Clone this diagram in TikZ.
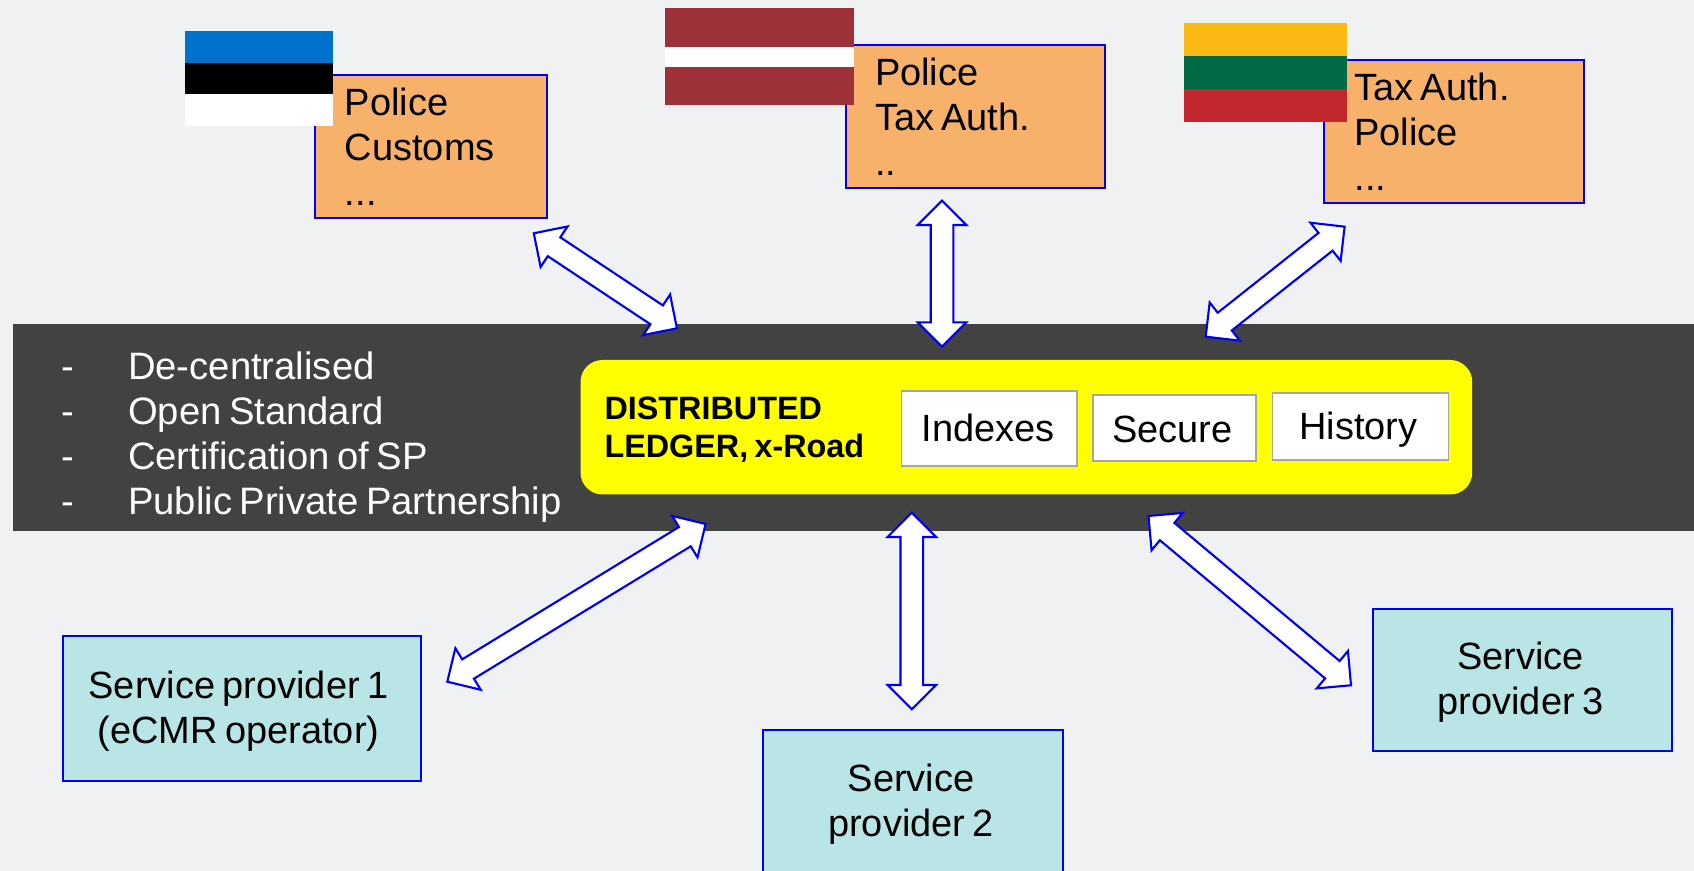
\documentclass[tikz,border=0pt]{standalone}
\usepackage{fontspec}
\setmainfont[WordSpace=0.7]{Liberation Sans}
\usetikzlibrary{calc}
\definecolor{pagebg}{HTML}{F0F1F3}
\definecolor{orangefill}{HTML}{F7B16B}
\definecolor{tealfill}{HTML}{B9E5E6}
\definecolor{bandfill}{HTML}{424242}
\definecolor{ledgeryellow}{HTML}{FFFF00}
\definecolor{linkblue}{HTML}{0000F0}
\definecolor{estblue}{HTML}{0072CE}
\definecolor{latred}{HTML}{9E3039}
\definecolor{litgold}{HTML}{FDB913}
\definecolor{litgreen}{HTML}{006A44}
\definecolor{litred}{HTML}{C1272D}
\tikzset{
  x=0.01cm, y=-0.01cm,
  plainbox/.style={rectangle, anchor=north west, inner sep=0pt, outer sep=0pt},
  orangebox/.style={plainbox, draw=linkblue, line width=0.55pt, fill=orangefill},
  tealbox/.style={plainbox, draw=linkblue, line width=0.55pt, fill=tealfill},
  whitebox/.style={plainbox, draw=black!35, line width=0.55pt, fill=white},
  bodytext/.style={font=\fontsize{10.8}{12.8}\selectfont, inner sep=0pt, outer sep=0pt},
  lefttext/.style={bodytext, align=left, anchor=north west},
  midtext/.style={bodytext, align=center, anchor=center},
  blockarrow/.style={draw=linkblue, line width=0.6pt, fill=white, line join=miter},
}
\newcommand{\dblarrow}[2]{%
  \draw[blockarrow]
    (#1)
    -- ($(#1)!0.243cm!(#2)!0.243cm!90:(#2)$)
    -- ($(#1)!0.243cm!(#2)!0.113cm!90:(#2)$)
    -- ($(#2)!0.243cm!(#1)!0.113cm!-90:(#1)$)
    -- ($(#2)!0.243cm!(#1)!0.243cm!-90:(#1)$)
    -- (#2)
    -- ($(#2)!0.243cm!(#1)!0.243cm!90:(#1)$)
    -- ($(#2)!0.243cm!(#1)!0.113cm!90:(#1)$)
    -- ($(#1)!0.243cm!(#2)!0.113cm!-90:(#2)$)
    -- ($(#1)!0.243cm!(#2)!0.243cm!-90:(#2)$)
    -- cycle;}
\begin{document}
\begin{tikzpicture}
\clip (0,0) rectangle (1694,871);
\fill[pagebg] (0,0) rectangle (1694,871);
% dark band
\fill[bandfill] (13,324) rectangle (1694,531);
% yellow ledger
\node[plainbox, fill=ledgeryellow, rounded corners=0.22cm, minimum width=8.912cm, minimum height=1.344cm] (ledger) at (580.5,360) {};
% authority boxes
\node[orangebox, minimum width=2.325cm, minimum height=1.43cm] (estbox) at (314.8,75.3) {};
\node[orangebox, minimum width=2.585cm, minimum height=1.43cm] (latbox) at (846,45.3) {};
\node[orangebox, minimum width=2.602cm, minimum height=1.425cm] (litbox) at (1324,60.3) {};
% flags
\fill[estblue] (184.8,31) rectangle (332.8,62.7);
\fill[black] (184.8,62.7) rectangle (332.8,94.3);
\fill[white] (184.8,94.3) rectangle (332.8,126);
\fill[latred] (665,8) rectangle (854,105);
\fill[white] (665,46.7) rectangle (854,66.7);
\fill[litgold] (1184,23) rectangle (1347.3,56);
\fill[litgreen] (1184,56) rectangle (1347.3,89);
\fill[litred] (1184,89) rectangle (1347.3,121.7);
% authority texts
\node[lefttext] (esttext) at (344.9,88) {Police\\Customs\\...};
\node[lefttext] (lattext) at (875,58) {Police\\Tax Auth.\\..};
\node[lefttext] (littext) at (1354.5,73) {Tax Auth.\\Police\\...};
% bullet list
\node[lefttext, font=\fontsize{10.87}{12.8}\selectfont, text=white] (bullets) at (61.5,352) {%
  \makebox[0.666cm][l]{-}De-centralised\\
  \makebox[0.666cm][l]{-}Open Standard\\
  \makebox[0.666cm][l]{-}Certification of SP\\
  \makebox[0.666cm][l]{-}Public Private Partnership};
% ledger content
\node[inner sep=0pt, outer sep=0pt, align=left, anchor=north west, font=\fontsize{9.2}{10.9}\selectfont\bfseries] (ledgertext) at (604.5,397) {DISTRIBUTED\\LEDGER, x-Road};
\node[whitebox, minimum width=1.752cm, minimum height=0.746cm] (indexes) at (901.5,391) {};
\node[whitebox, minimum width=1.628cm, minimum height=0.663cm] (secure) at (1093.3,395) {};
\node[whitebox, minimum width=1.759cm, minimum height=0.666cm] (history) at (1272.5,393) {};
\node[midtext] (indexestext) at (988,428) {Indexes};
\node[midtext] (securetext) at (1172.5,429) {Secure};
\node[midtext] (historytext) at (1358.5,429.5) {History};
% service providers
\node[tealbox, minimum width=3.58cm, minimum height=1.45cm] (sp1) at (62.9,636.3) {};
\node[tealbox, minimum width=3.003cm, minimum height=1.6cm] (sp2) at (762.8,730.3) {};
\node[tealbox, minimum width=2.988cm, minimum height=1.425cm] (sp3) at (1372.9,608.7) {};
\node[midtext] (sp1text) at (238.5,711.5) {Service provider 1\\(eCMR operator)};
\node[midtext] (sp2text) at (911,804) {Service\\provider 2};
\node[midtext] (sp3text) at (1520.5,682.5) {Service\\provider 3};
% connector ends
\coordinate (a1) at (533.8,233.3); \coordinate (a2) at (676.9,328.3);
\coordinate (b1) at (942,200.7);   \coordinate (b2) at (942,346.7);
\coordinate (c1) at (1344.6,226.7);\coordinate (c2) at (1205.7,336.7);
\coordinate (d1) at (705.6,524);   \coordinate (d2) at (447.3,681.7);
\coordinate (e1) at (911.8,512.7); \coordinate (e2) at (911.8,709.3);
\coordinate (f1) at (1148.5,516);  \coordinate (f2) at (1351,685.3);
\dblarrow{a1}{a2}
\dblarrow{b1}{b2}
\dblarrow{c1}{c2}
\dblarrow{d1}{d2}
\dblarrow{e1}{e2}
\dblarrow{f1}{f2}
\end{tikzpicture}
\end{document}
